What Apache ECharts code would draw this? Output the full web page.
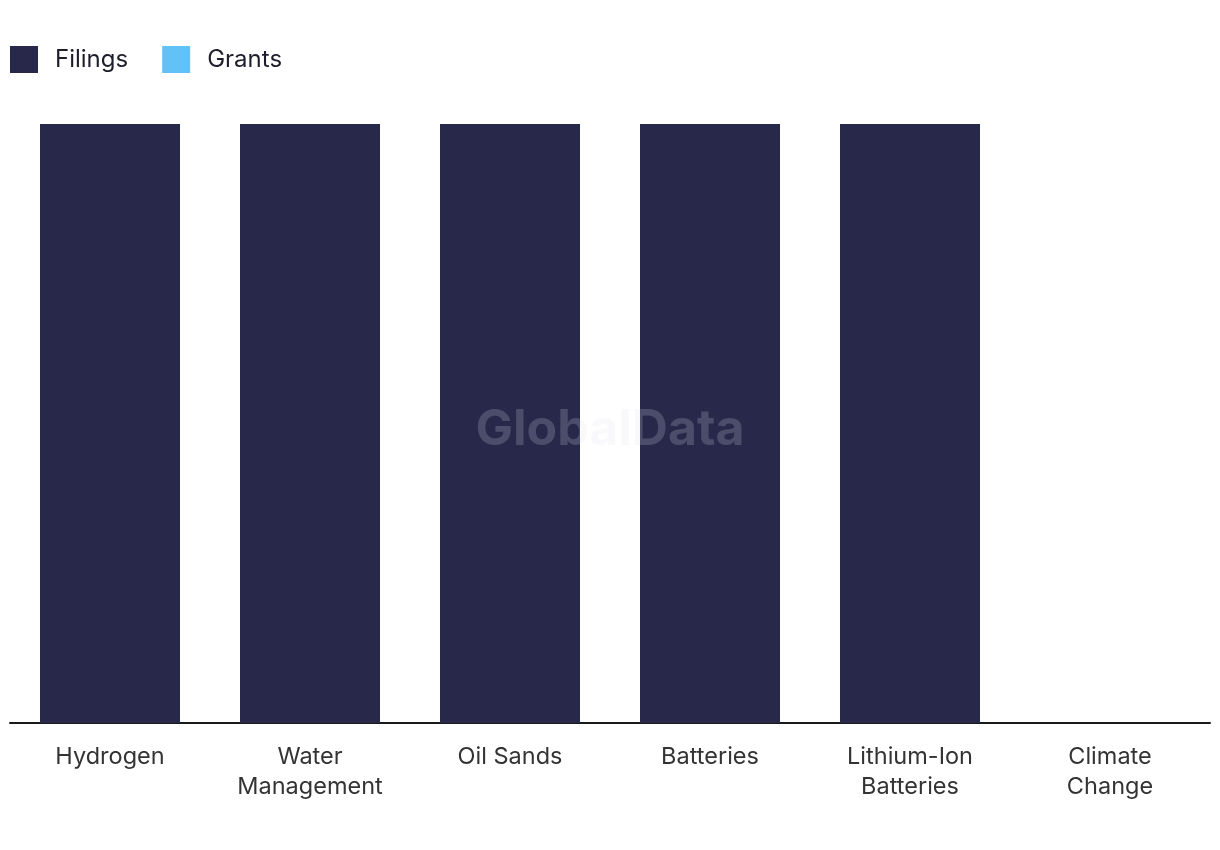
<!DOCTYPE html>
<html>
<head>
<meta charset="utf-8">
<script src="https://cdn.jsdelivr.net/npm/echarts@6/dist/echarts.min.js"></script>
<style>html,body{margin:0;padding:0;background:#fff;}#c{width:1220px;height:850px;}</style>
</head>
<body>
<div id="c"></div>
<script>
const categories = ['Hydrogen', 'Water\nManagement', 'Oil Sands', 'Batteries', 'Lithium-Ion\nBatteries', 'Climate\nChange'];
const filings = [1, 1, 1, 1, 1, 0];
const grants = [0, 0, 0, 0, 0, 0];
const seriesNames = ['Filings', 'Grants'];
const colors = ['#27284a', '#62c2f8'];

const chart = echarts.init(document.getElementById('c'));
chart.setOption({
  animation: false,
  textStyle: { fontFamily: 'Inter, Roboto, sans-serif' },
  legend: {
    left: 10, top: 46, padding: 0,
    itemWidth: 28, itemHeight: 27, itemGap: 34,
    icon: 'rect',
    textStyle: { fontSize: 24, color: '#1d1d2b', padding: [0, 0, 0, 12] },
    data: seriesNames
  },
  graphic: [{
    type: 'text', left: 'center', top: 405, z: 100,
    style: { text: 'GlobalData', font: 'bold 50px Inter, Roboto, sans-serif', fill: 'rgba(225,225,235,0.2)' }
  }],
  grid: { left: 10, right: 10, top: 124, bottom: 127 },
  xAxis: {
    type: 'category', data: categories,
    axisLine: { lineStyle: { color: '#1a1a1a', width: 2 } },
    axisTick: { show: false },
    axisLabel: { fontSize: 23.5, color: '#333', lineHeight: 30, margin: 19, interval: 0 }
  },
  yAxis: { type: 'value', min: 0, max: 1, show: false, splitLine: { show: false } },
  series: [
    { name: seriesNames[0], type: 'bar', stack: 's', data: filings, barWidth: 140, itemStyle: { color: colors[0] } },
    { name: seriesNames[1], type: 'bar', stack: 's', data: grants, barWidth: 140, itemStyle: { color: colors[1] } }
  ]
});
</script>
</body>
</html>
